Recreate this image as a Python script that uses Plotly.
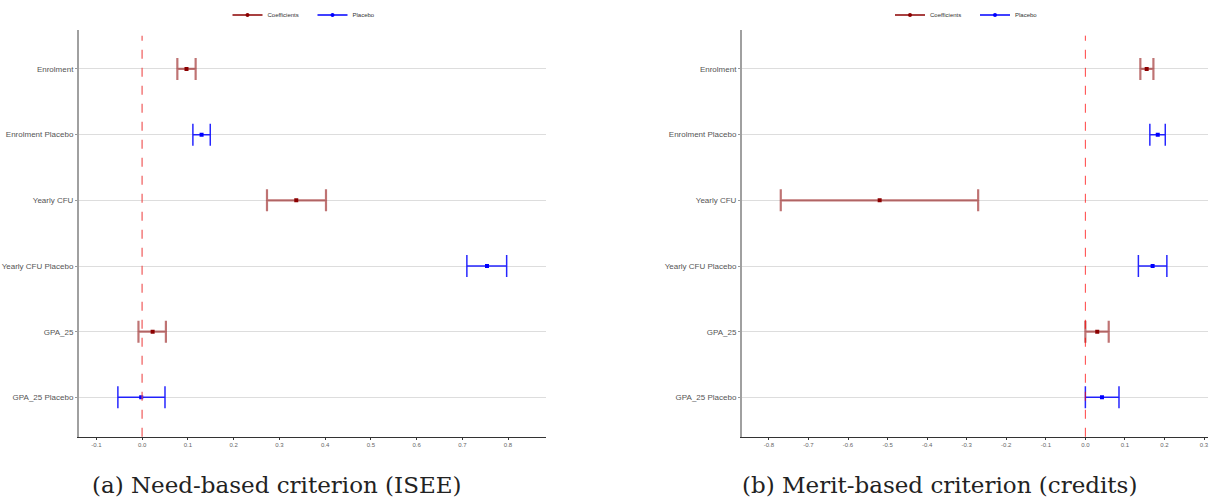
import plotly.graph_objects as go

categories = ["Enrolment", "Enrolment Placebo", "Yearly CFU", "Yearly CFU Placebo", "GPA_25", "GPA_25 Placebo"]
coef_cats = ["Enrolment", "Yearly CFU", "GPA_25"]
plac_cats = ["Enrolment Placebo", "Yearly CFU Placebo", "GPA_25 Placebo"]

# Panel (a): Need-based criterion (ISEE)
a_coef_est = [0.097, 0.337, 0.023]
a_coef_lo = [0.077, 0.273, -0.008]
a_coef_hi = [0.117, 0.402, 0.052]
a_plac_est = [0.130, 0.754, -0.002]
a_plac_lo = [0.111, 0.710, -0.053]
a_plac_hi = [0.149, 0.797, 0.050]

# Panel (b): Merit-based criterion (credits)
b_coef_est = [0.155, -0.520, 0.030]
b_coef_lo = [0.139, -0.770, 0.000]
b_coef_hi = [0.172, -0.271, 0.059]
b_plac_est = [0.183, 0.170, 0.042]
b_plac_lo = [0.163, 0.134, 0.000]
b_plac_hi = [0.202, 0.206, 0.085]

a_ticks = [-0.1, 0.0, 0.1, 0.2, 0.3, 0.4, 0.5, 0.6, 0.7, 0.8]
b_ticks = [-0.8, -0.7, -0.6, -0.5, -0.4, -0.3, -0.2, -0.1, 0.0, 0.1, 0.2, 0.3]
captions = ["(a) Need-based criterion (ISEE)", "(b) Merit-based criterion (credits)"]

RED = "#8B0000"
RED_BAR = "rgba(139,0,0,0.55)"
BLUE = "#0000FF"
BLUE_BAR = "rgba(0,0,255,0.85)"

fig = go.Figure()


def add_panel(est, lo, hi, cats, color, barcolor, xa, ya, thick):
    fig.add_trace(go.Scatter(
        x=est, y=cats, mode="markers", xaxis=xa, yaxis=ya, showlegend=False,
        marker=dict(color=color, size=4, symbol="square"),
        error_x=dict(type="data", symmetric=False,
                     array=[h - e for h, e in zip(hi, est)],
                     arrayminus=[e - l for e, l in zip(est, lo)],
                     color=barcolor, thickness=thick, width=11),
    ))


add_panel(a_coef_est, a_coef_lo, a_coef_hi, coef_cats, RED, RED_BAR, "x", "y", 2.2)
add_panel(a_plac_est, a_plac_lo, a_plac_hi, plac_cats, BLUE, BLUE_BAR, "x", "y", 1.5)
add_panel(b_coef_est, b_coef_lo, b_coef_hi, coef_cats, RED, RED_BAR, "x2", "y2", 2.2)
add_panel(b_plac_est, b_plac_lo, b_plac_hi, plac_cats, BLUE, BLUE_BAR, "x2", "y2", 1.5)

# legend-only entries
for lg, xa, ya in [("legend", "x", "y"), ("legend2", "x2", "y2")]:
    for name, col in [("Coefficients", RED), ("Placebo", BLUE)]:
        fig.add_trace(go.Scatter(x=[None], y=[None], mode="lines+markers", name=name,
                                 xaxis=xa, yaxis=ya, legend=lg,
                                 line=dict(color=col, width=1.5),
                                 marker=dict(color=col, size=4)))

ydom = [1 - 435 / 504, 1 - 17 / 504]
xdom_a = [79 / 1212, 546 / 1212]
xdom_b = [742 / 1212, 1208 / 1212]

xcommon = dict(showgrid=False, zeroline=False, showline=True, linecolor="#333333", linewidth=1,
               ticks="outside", ticklen=2, tickcolor="#333333",
               tickfont=dict(family="Liberation Sans", size=6, color="#666666"))
ycommon = dict(type="category", categoryorder="array", categoryarray=categories,
               range=[5.6, -0.6], showgrid=True, gridcolor="#dddddd", gridwidth=1,
               zeroline=False, showline=True, linecolor="#a0a0a0", linewidth=2,
               ticks="outside", ticklen=2, tickcolor="#999999",
               tickfont=dict(family="Liberation Sans", size=8, color="#555555"))

leg_common = dict(orientation="h", xanchor="center", y=1 - 2 / 504, yanchor="middle",
                  font=dict(family="Liberation Sans", size=6, color="#333333"),
                  entrywidth=40, entrywidthmode="pixels", bgcolor="rgba(0,0,0,0)")

fig.update_layout(
    width=1212, height=504, margin=dict(l=0, r=0, t=0, b=0),
    paper_bgcolor="white", plot_bgcolor="white",
    xaxis=dict(domain=xdom_a, anchor="y", range=[-0.138, 0.883], tickvals=a_ticks,
               ticktext=[f"{v:.1f}" for v in a_ticks], **xcommon),
    yaxis=dict(domain=ydom, anchor="x", **ycommon),
    xaxis2=dict(domain=xdom_b, anchor="y2", range=[-0.868, 0.31], tickvals=b_ticks,
                ticktext=[f"{v:.1f}" for v in b_ticks], **xcommon),
    yaxis2=dict(domain=ydom, anchor="x2", **ycommon),
    legend=dict(x=sum(xdom_a) / 2, **leg_common),
    legend2=dict(x=sum(xdom_b) / 2, **leg_common),
    showlegend=True,
)

# zero reference lines
fig.add_shape(type="line", xref="x", yref="y domain", x0=0, x1=0, y0=0, y1=0.985,
              line=dict(color="rgba(240,80,80,0.7)", width=1.6, dash="dash"))
fig.add_shape(type="line", xref="x2", yref="y2 domain", x0=0, x1=0, y0=0, y1=0.985,
              line=dict(color="rgba(255,0,0,0.75)", width=1, dash="dash"))

# captions
for txt, xc in zip(captions, [276 / 1212, 940 / 1212]):
    fig.add_annotation(text=txt, x=xc, y=1 - 485 / 504, xref="paper", yref="paper",
                       showarrow=False, xanchor="center", yanchor="middle",
                       font=dict(family="DejaVu Serif", size=23, color="#222222"))

fig.write_html("out.html", config={"displayModeBar": False},
               post_script="document.body.style.margin='0';document.body.style.overflow='hidden';")
